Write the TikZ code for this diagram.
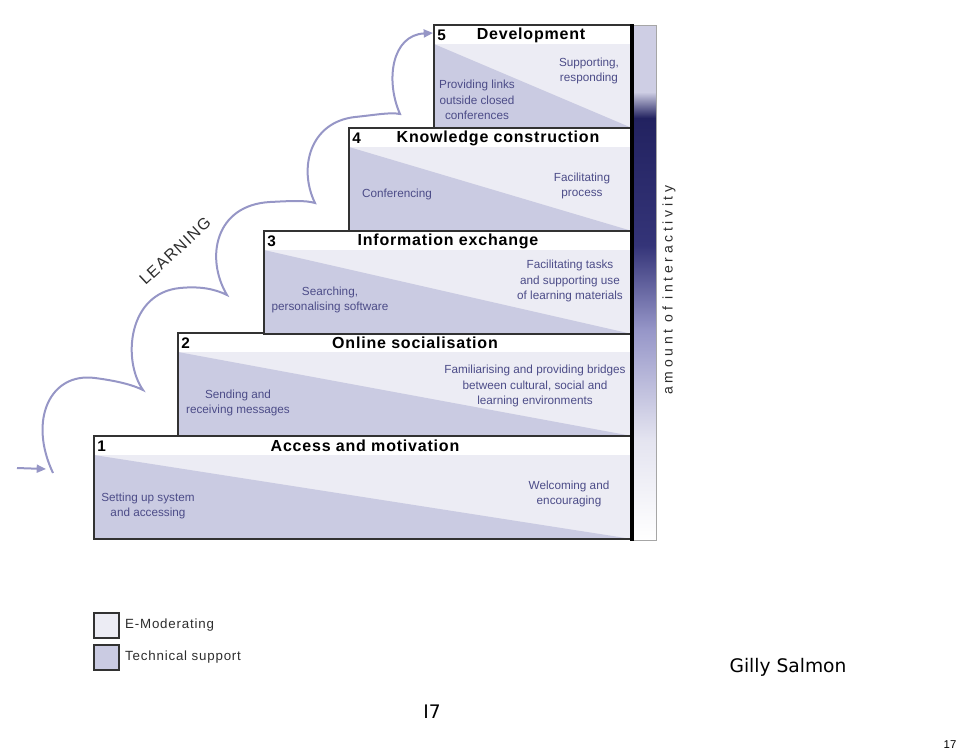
\documentclass[tikz,border=0pt]{standalone}
\usepackage{fontspec}
\setmainfont{Liberation Sans}
\newfontfamily\headfont[LetterSpace=5]{Liberation Sans}
\newfontfamily\keyfont[LetterSpace=6]{Liberation Sans}
\newfontfamily\axisfont[LetterSpace=26]{Liberation Sans}
\newfontfamily\learnfont[LetterSpace=8]{Liberation Sans}
\newfontfamily\verdfont{DejaVu Sans}
\usetikzlibrary{positioning, arrows.meta}
\definecolor{emodfill}{RGB}{236,236,244}
\definecolor{techfill}{RGB}{202,203,226}
\definecolor{textblue}{RGB}{76,76,136}
\definecolor{curvecol}{RGB}{150,150,198}
\definecolor{barlight}{RGB}{206,206,228}
\definecolor{bardark}{RGB}{34,34,96}
\definecolor{bardarktwo}{RGB}{52,52,120}
\definecolor{barmid}{RGB}{150,150,200}
\definecolor{barpale}{RGB}{228,228,240}
\definecolor{edgegray}{RGB}{50,50,50}
\definecolor{labelgray}{RGB}{45,45,45}

\tikzset{
  boxline/.style={draw=edgegray, line width=0.9pt},
  headtitle/.style={font=\headfont\bfseries\fontsize{12}{14}\selectfont, inner sep=0pt},
  stepnum/.style={font=\bfseries\fontsize{11.5}{13}\selectfont, anchor=west, inner sep=0pt},
  bodytext/.style={font=\fontsize{8.8}{11.6}\selectfont, text=textblue, align=center, inner sep=0pt},
  keybox/.style={draw=edgegray, line width=0.9pt, minimum size=18.75pt, inner sep=0pt},
  keytext/.style={font=\keyfont\fontsize{10}{12}\selectfont, text=labelgray, inner sep=0pt},
  learnpath/.style={curvecol, line width=1.5pt},
  learntip/.style={-{Triangle[length=7pt,width=6pt]}}
}

\begin{document}
\begin{tikzpicture}[x=0.75pt, y=-0.75pt]
  \useasboundingbox (0,0) rectangle (960,751);

  % the five steps
  \foreach \n/\lx/\ty/\tx/\ttl in {1/94/436/365/Access and motivation,
      2/178/333/415/Online socialisation, 3/264/231/448/Information exchange,
      4/349/128/498/Knowledge construction, 5/434/25/531/Development}{
    \fill[emodfill] (\lx,\ty) rectangle (632,\ty+103);
    \fill[white] (\lx,\ty) rectangle (632,\ty+19);
    \fill[techfill] (\lx,\ty+19) -- (632,\ty+103) -- (\lx,\ty+103) -- cycle;
    \draw[boxline] (\lx,\ty) rectangle (632,\ty+103);
    \node[stepnum] (num\n) at (\lx+3,\ty+10) {\n};
    \node[headtitle] (title\n) at (\tx,\ty+10) {\ttl};
  }

  \node[bodytext] (tech1) at (148,506) {Setting up system\\and accessing};
  \node[bodytext] (emod1) at (569,494) {Welcoming and\\encouraging};
  \node[bodytext] (tech2) at (238,403) {Sending and\\receiving messages};
  \node[bodytext] (emod2) at (535,386) {Familiarising and providing bridges\\between cultural, social and\\learning environments};
  \node[bodytext] (tech3) at (330,300) {Searching,\\personalising software};
  \node[bodytext] (emod3) at (570,281) {Facilitating tasks\\and supporting use\\of learning materials};
  \node[bodytext] (tech4) at (397,194) {Conferencing};
  \node[bodytext] (emod4) at (582,186) {Facilitating\\process};
  \node[bodytext] (tech5) at (477,100) {Providing links\\outside closed\\conferences};
  \node[bodytext] (emod5) at (589,71) {Supporting,\\responding};

  % interactivity bar
  \fill[barlight] (634,25) rectangle (656,92);
  \shade[top color=barlight, bottom color=bardark] (634,92) rectangle (656,118);
  \shade[top color=bardark, bottom color=bardarktwo] (634,118) rectangle (656,245);
  \shade[top color=bardarktwo, bottom color=barmid] (634,245) rectangle (656,330);
  \shade[top color=barmid, bottom color=barpale] (634,330) rectangle (656,440);
  \shade[top color=barpale, bottom color=white] (634,440) rectangle (656,540);
  \draw[gray!70, line width=0.5pt] (633,25) rectangle (656,540);
  \draw[black, line width=2.3pt] (632,24) -- (632,541);
  \node[rotate=90, font=\axisfont\fontsize{10.5}{12}\selectfont, text=labelgray] (axislabel) at (669,290) {amount of interactivity};

  % learning curve
  \coordinate (entry) at (17,468);
  \coordinate (entrytip) at (46,469);
  \coordinate (cusp0) at (53,473);
  \coordinate (cusp1) at (143,390);
  \coordinate (cusp2) at (227,295);
  \coordinate (cusp3) at (315,203);
  \coordinate (cusp4) at (400,114);
  \coordinate (goal) at (433,33);
  \draw[learnpath, learntip] (entry) -- (entrytip);
  \draw[learnpath, learntip] (cusp0) .. controls (28,420) and (50,372) .. (95,378)
    .. controls (118,381) and (133,385) .. (cusp1)
    .. controls (122,360) and (128,293) .. (180,288)
    .. controls (200,286) and (215,289) .. (cusp2)
    .. controls (205,258) and (215,205) .. (270,202)
    .. controls (290,201) and (305,200) .. (cusp3)
    .. controls (298,168) and (310,122) .. (355,117)
    .. controls (375,115) and (390,112) .. (cusp4)
    .. controls (385,80) and (392,35) .. (goal);
  \node[rotate=43, font=\learnfont\fontsize{12}{14}\selectfont, text=labelgray] (learnlabel) at (175,251) {LEARNING};

  % key
  \node[keybox, fill=emodfill] (keyemod) at (106.5,625.5) {};
  \node[keybox, fill=techfill] (keytech) at (106.5,657.5) {};
  \node[keytext, right=4pt of keyemod] (keyemodtext) {E-Moderating};
  \node[keytext, right=4pt of keytech] (keytechtext) {Technical support};

  \node[font=\verdfont\fontsize{14}{17}\selectfont] (author) at (788,667) {Gilly Salmon};
  \node[font=\verdfont\fontsize{14}{17}\selectfont] (slideno) at (432,712) {I7};
  \node[font=\fontsize{8.5}{10}\selectfont] (pageno) at (950,745) {17};
\end{tikzpicture}
\end{document}
